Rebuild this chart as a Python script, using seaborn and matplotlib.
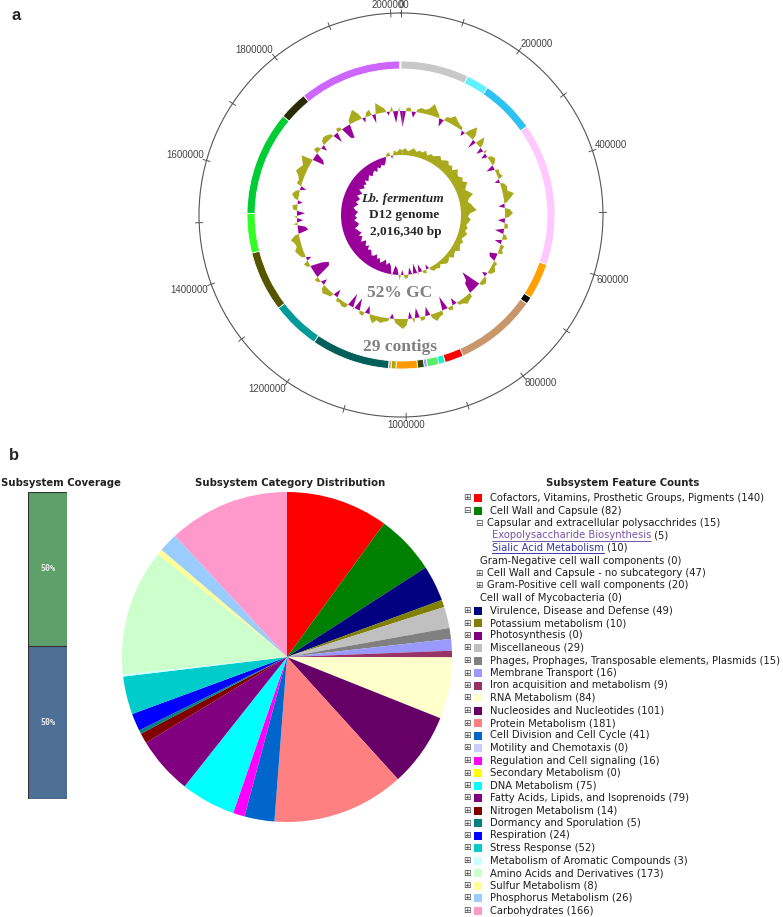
import numpy as np
import matplotlib
matplotlib.use('Agg')
import matplotlib.pyplot as plt
import seaborn as sns

sns.set_style('white')
plt.rcParams['font.family'] = ['DejaVu Sans']

W, H = 783, 917

# ---------------- panel a : genome map ----------------
genome_len = 2016340
tick_step = 100000
label_ticks = [0, 200000, 400000, 600000, 800000, 1000000, 1200000,
               1400000, 1600000, 1800000, 2000000]

contig_ends = [144000, 191500, 307500, 609400, 686100, 701200, 874900,
               914600, 928600, 952700, 959400, 973400, 1018800, 1028900,
               1034500, 1200800, 1303800, 1432100, 1515600, 1736300,
               1796800, 2013500]
contig_colors = ['#c8c8c8', '#5ff2ff', '#2ec2f2', '#ffc8ff', '#ffa200',
                 '#000000', '#c8966a', '#ff0000', '#22eecc', '#55ee66',
                 '#9999ff', '#334400', '#ff9900', '#a8a800', '#e8a090',
                 '#005f58', '#009a98', '#555500', '#33ff22', '#00cc33',
                 '#2a2a05', '#cc66ff']

# GC content deviation (middle ring), 180 windows of 2 degrees
gc_content = [-16, 3, 4, -6, 3, 5, 4, 6, 12, 7,
              3, -8, 4, 5, 9, 6, 4, 3, -5, 5,
              12, 6, -9, 10, 5, -7, 4, -6, 4, 6,
              3, -8, 4, 3, 5, -5, 4, 6, 5, 11,
              7, 3, -6, 5, 8, 4, -7, 3, 4, -9,
              3, 5, -7, 4, 3, 5, -8, -6, 4, 3,
              6, 4, -5, 3, 5, 3, -20, -12, -10, 4,
              5, 7, 4, 3, -7, 4, 3, -14, 4, 5,
              8, 4, -9, 3, 4, -10, 5, -7, 6, 10,
              7, 4, -5, 3, 4, 6, 4, 8, 3, -8,
              4, 3, -12, 3, -14, 4, 5, 3, 4, -8,
              4, 5, 7, 4, -6, 3, 4, -16, -18, -12,
              3, 5, -5, 4, 6, 8, 5, 6, 9, 4,
              -10, -8, 4, -6, 3, -8, 4, 5, -5, 4,
              7, 4, -6, 5, 4, 6, 10, 8, 6, 9,
              12, -12, -9, 5, 4, -6, 4, 6, 5, 3,
              -10, 4, 3, -12, -14, 4, 8, 12, 6, -5,
              4, 6, -9, 11, 7, 4, -4, 5, -12, 4]

# GC skew (inner ring), 144 windows of 2.5 degrees
gc_skew = [5, 7, 4, 6, 8, 5, 7, 6, 9, 5, 8, 7,
           9, 11, 8, 10, 12, 9, 11, 8, 13, 10, 9, 12,
           10, 14, 11, 9, 12, 15, 10, 8, 11, 13, 16, 9, 7, 10, 8, 6,
           8, 6, 9, 7, 5, 8, 6, 7, 9, 5, 6, 8, 4, 6, 7, 5, 3, 6, 4, 5,
           3, -5, 4, 2, -8, 3, -10, 2, -7, 3, 4, -5, 5, -6, -9, 2,
           -8, -11, -8, -13, -10, -8, -12, -10, -14, -11, -10, -13,
           -14, -12, -16, -13, -15, -17, -12, -14, -16, -13, -17, -15,
           -14, -12, -16, -17, -15, -13, -16, -14, -15, -17, -14, -12,
           -14, -16, -13, -15, -16, -12, -14, -16, -11, -13, -15, -12,
           -14, -10, -13, -11, -9, -12, -10, -8, -11, -7, -9, -6,
           -8, -5,
           2, 4, -3, 5, 3, 6]

# ---------------- panel b : subsystems ----------------
categories = ['Cofactors, Vitamins, Prosthetic Groups, Pigments',
              'Cell Wall and Capsule', 'Virulence, Disease and Defense',
              'Potassium metabolism', 'Photosynthesis', 'Miscellaneous',
              'Phages, Prophages, Transposable elements, Plasmids',
              'Membrane Transport', 'Iron acquisition and metabolism',
              'RNA Metabolism', 'Nucleosides and Nucleotides',
              'Protein Metabolism', 'Cell Division and Cell Cycle',
              'Motility and Chemotaxis', 'Regulation and Cell signaling',
              'Secondary Metabolism', 'DNA Metabolism',
              'Fatty Acids, Lipids, and Isoprenoids', 'Nitrogen Metabolism',
              'Dormancy and Sporulation', 'Respiration', 'Stress Response',
              'Metabolism of Aromatic Compounds', 'Amino Acids and Derivatives',
              'Sulfur Metabolism', 'Phosphorus Metabolism', 'Carbohydrates']
counts = [140, 82, 49, 10, 0, 29, 15, 16, 9, 84, 101, 181, 41, 0, 16, 0, 75,
          79, 14, 5, 24, 52, 3, 173, 8, 26, 166]
cat_colors = ['#ff0000', '#008000', '#000080', '#808000', '#800080',
              '#c0c0c0', '#808080', '#9999ff', '#993366', '#ffffcc',
              '#660066', '#ff8080', '#0066cc', '#ccccff', '#ff00ff',
              '#ffff00', '#00ffff', '#800080', '#800000', '#008080',
              '#0000ff', '#00cccc', '#ccffff', '#ccffcc', '#ffff99',
              '#99ccff', '#ff99cc']

# sub-rows shown under the expanded "Cell Wall and Capsule" category
cellwall_sub = [(1, '\u229f', 'Capsular and extracellular polysacchrides', 15, None),
                (2, '', 'Exopolysaccharide Biosynthesis', 5, '#7b52a8'),
                (2, '', 'Sialic Acid Metabolism', 10, '#3636a8'),
                (1, '', 'Gram-Negative cell wall components', 0, None),
                (1, '\u229e', 'Cell Wall and Capsule - no subcategory', 47, None),
                (1, '\u229e', 'Gram-Positive cell wall components', 20, None),
                (1, '', 'Cell wall of Mycobacteria', 0, None)]

coverage_labels = ['In subsystem', 'Not in subsystem']
coverage_pct = [50, 50]
coverage_colors = ['#5f9f6a', '#4d6f95']


def fx(x):
    return x / W


def fy(y):
    return 1 - y / H


fig = plt.figure(figsize=(W / 100, H / 100), dpi=100)

# pixel overlay for texts and legend
ax_px = fig.add_axes([0, 0, 1, 1])
ax_px.set_xlim(0, W)
ax_px.set_ylim(H, 0)
ax_px.axis('off')
ax_px.set_zorder(10)

# ---- genome circle ----
cx, cy, R = 401, 215, 202
ax = fig.add_axes([fx(cx - R), fy(cy + R), 2 * R / W, 2 * R / H], projection='polar')
ax.set_theta_zero_location('N')
ax.set_theta_direction(-1)
ax.set_ylim(0, R)
ax.set_yticks([])
ax.set_xticks([])
ax.grid(False)
ax.spines['polar'].set_color('#555555')
ax.spines['polar'].set_linewidth(0.8)

tick_theta = 2 * np.pi * np.arange(0, genome_len, tick_step) / genome_len
ax.vlines(tick_theta, R - 4, R + 4, color='#555555', linewidth=0.7, clip_on=False)

ends = np.array(contig_ends)
starts = np.concatenate([[0], ends[:-1]])
ax.bar(2 * np.pi * starts / genome_len, 8, width=2 * np.pi * (ends - starts) / genome_len,
       bottom=146, align='edge', color=contig_colors, edgecolor='white', linewidth=0.6)

olive, purple = '#aaaa1e', '#990099'
for vals, base in [(gc_content, 104), (gc_skew, 60)]:
    v = np.array(vals + vals[:1], dtype=float)
    n = len(vals)
    th = 2 * np.pi * (np.arange(n + 1) + 0.5) / n
    ax.fill_between(th, base, base + v, where=v >= 0, interpolate=True,
                    color=olive, linewidth=0)
    ax.fill_between(th, base, base + v, where=v <= 0, interpolate=True,
                    color=purple, linewidth=0)

for t in label_ticks:
    a = 2 * np.pi * t / genome_len
    s, c = np.sin(a), np.cos(a)
    ha = 'left' if s > 0.25 else ('right' if s < -0.25 else 'center')
    va = 'bottom' if c > 0.25 else ('top' if c < -0.25 else 'center')
    ax.text(a, R + 3, str(t), ha=ha, va=va, fontsize=7, color='#444444',
            family='Liberation Sans')

serif = 'Liberation Serif'
ax_px.text(402, 199, 'Lb. fermentum', ha='center', va='center', fontsize=9.6,
           fontweight='bold', fontstyle='italic', family=serif)
ax_px.text(404, 215, 'D12 genome', ha='center', va='center', fontsize=9.6,
           fontweight='bold', family=serif)
ax_px.text(406, 232, '2,016,340 bp', ha='center', va='center', fontsize=9.6,
           fontweight='bold', family=serif)
ax_px.text(400, 293, '52% GC', ha='center', va='center', fontsize=12.5,
           fontweight='bold', family=serif, color='#808080')
ax_px.text(400, 347, '29 contigs', ha='center', va='center', fontsize=12.5,
           fontweight='bold', family=serif, color='#808080')

ax_px.text(12, 15, 'a', ha='left', va='center', fontsize=12, fontweight='bold',
           family='Liberation Sans')
ax_px.text(9, 456, 'b', ha='left', va='center', fontsize=12, fontweight='bold',
           family='Liberation Sans')

# ---- coverage bar ----
ax_cov = fig.add_axes([fx(28), fy(799), 39 / W, 307 / H])
sns.barplot(x=[0], y=[sum(coverage_pct)], color=coverage_colors[0], width=1,
            edgecolor='#333333', linewidth=0.8, saturation=1, ax=ax_cov)
sns.barplot(x=[0], y=[coverage_pct[1]], color=coverage_colors[1], width=1,
            edgecolor='#333333', linewidth=0.8, saturation=1, ax=ax_cov)
ax_cov.set_xlim(-0.5, 0.5)
ax_cov.set_ylim(0, 100)
ax_cov.axis('off')
ax_cov.text(0, coverage_pct[1] + coverage_pct[0] / 2, f'{coverage_pct[0]}%', ha='center',
            va='center', fontsize=6, color='#eeeeee', family='DejaVu Sans Mono',
            fontweight='bold')
ax_cov.text(0, coverage_pct[1] / 2, f'{coverage_pct[1]}%', ha='center', va='center',
            fontsize=6, color='#eeeeee', family='DejaVu Sans Mono', fontweight='bold')

# ---- pie ----
pcx, pcy, pr = 287, 657, 165
ax_pie = fig.add_axes([fx(pcx - pr), fy(pcy + pr), 2 * pr / W, 2 * pr / H])
nz = [i for i, n in enumerate(counts) if n > 0]
ax_pie.pie([counts[i] for i in nz], colors=[cat_colors[i] for i in nz], startangle=90,
           counterclock=False, wedgeprops=dict(linewidth=0))
ax_pie.set_xlim(-1, 1)
ax_pie.set_ylim(-1, 1)

# ---- titles ----
tkw = dict(va='center', fontsize=7.3, fontweight='bold', color='#222222')
ax_px.text(1, 483, 'Subsystem Coverage', ha='left', **tkw)
ax_px.text(290, 483, 'Subsystem Category Distribution', ha='center', **tkw)
ax_px.text(623, 483, 'Subsystem Feature Counts', ha='center', **tkw)

# ---- legend ----
rows = []
for name, n, col in zip(categories, counts, cat_colors):
    icon = '\u229f' if name == 'Cell Wall and Capsule' else '\u229e'
    rows.append((0, icon, name, n, None, col))
    if name == 'Cell Wall and Capsule':
        for level, ic, sub, m, link in cellwall_sub:
            rows.append((level, ic, sub, m, link, None))

fig.canvas.draw()
renderer = fig.canvas.get_renderer()
lkw = dict(va='center', fontsize=7.2, color='#1e1e1e')
for i, (level, icon, text, n, link, col) in enumerate(rows):
    y = 498 + 12.5 * i
    if level == 0:
        ax_px.text(467, y, icon, ha='center', fontsize=6.5, va='center', color='#444444')
        ax_px.scatter([478], [y], marker='s', s=36, color=col, linewidths=0)
        ax_px.text(490, y, f'{text} ({n})', ha='left', **lkw)
    elif level == 1:
        if icon:
            ax_px.text(479, y, icon, ha='center', fontsize=6.5, va='center', color='#444444')
            ax_px.text(487, y, f'{text} ({n})', ha='left', **lkw)
        else:
            ax_px.text(480, y, f'{text} ({n})', ha='left', **lkw)
    else:
        t = ax_px.text(492, y, text, ha='left', va='center', fontsize=7.2, color=link)
        bb = t.get_window_extent(renderer).transformed(ax_px.transData.inverted())
        ax_px.plot([bb.x0, bb.x1], [y + 5, y + 5], color=link, linewidth=0.7)
        ax_px.text(bb.x1, y, f' ({n})', ha='left', **lkw)

fig.savefig('out.png', dpi=100)
